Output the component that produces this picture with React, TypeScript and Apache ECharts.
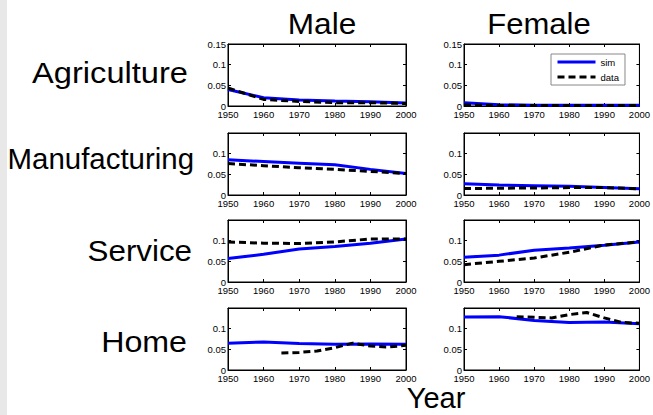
import React, { useEffect, useRef } from "react";
import * as echarts from "echarts";

const years = [1950, 1960, 1970, 1980, 1990, 2000];
const homeDataYears = [1965, 1970, 1975, 1980, 1985, 1990, 1995, 2000];

const sectors = ["Agriculture", "Manufacturing", "Service", "Home"];
const genders = ["Male", "Female"];
const yTicks = [0, 0.05, 0.1, 0.15];

// sim series (1950..2000 by 10)
const simMaleAgri = [0.04, 0.02, 0.0145, 0.012, 0.01, 0.007];
const simFemaleAgri = [0.008, 0.003, 0.002, 0.002, 0.002, 0.002];
const simMaleManu = [0.085, 0.081, 0.077, 0.073, 0.062, 0.052];
const simFemaleManu = [0.027, 0.024, 0.0225, 0.021, 0.018, 0.015];
const simMaleServ = [0.057, 0.067, 0.08, 0.086, 0.094, 0.104];
const simFemaleServ = [0.06, 0.065, 0.077, 0.082, 0.089, 0.097];
const simMaleHome = [0.065, 0.068, 0.064, 0.062, 0.063, 0.062];
const simFemaleHome = [0.128, 0.129, 0.12, 0.115, 0.116, 0.112];

// data series
const dataMaleAgri = [0.0435, 0.016, 0.011, 0.008, 0.008, 0.006];
const dataFemaleAgri = [0.003, 0.001, 0.001, 0.001, 0.001, 0.001];
const dataMaleManu = [0.076, 0.071, 0.066, 0.062, 0.057, 0.052];
const dataFemaleManu = [0.0156, 0.0164, 0.017, 0.018, 0.018, 0.015];
const dataMaleServ = [0.097, 0.094, 0.093, 0.097, 0.104, 0.104];
const dataFemaleServ = [0.042, 0.05, 0.058, 0.072, 0.0895, 0.097];
const dataMaleHome = [0.041, 0.0425, 0.046, 0.054, 0.065, 0.058, 0.0555, 0.0597];
const dataFemaleHome = [0.129, 0.1274, 0.126, 0.134, 0.139, 0.126, 0.115, 0.113];

const simSets = [
  [simMaleAgri, simFemaleAgri],
  [simMaleManu, simFemaleManu],
  [simMaleServ, simFemaleServ],
  [simMaleHome, simFemaleHome],
];
const dataSets = [
  [dataMaleAgri, dataFemaleAgri],
  [dataMaleManu, dataFemaleManu],
  [dataMaleServ, dataFemaleServ],
  [dataMaleHome, dataFemaleHome],
];

const FONT = "'Liberation Sans', Arial, Helvetica, sans-serif";

export default function App() {
  const ref = useRef<HTMLDivElement>(null);
  useEffect(() => {
    if (!ref.current) return;
    document.documentElement.style.overflow = "hidden";
    document.documentElement.style.background = "#fff";
    document.body.style.margin = "0";
    document.body.style.overflow = "hidden";
    const chart = echarts.init(ref.current, null, { renderer: "svg" });
    const colLeft = [228, 464];
    const colWidth = [178, 179];
    const rowTop = [44, 133, 220, 308];
    const rowHeight = 62;

    const grids: any[] = [];
    const xAxes: any[] = [];
    const yAxes: any[] = [];
    const series: any[] = [];
    let g = 0;
    for (let r = 0; r < 4; r++) {
      for (let c = 0; c < 2; c++) {
        grids.push({
          left: colLeft[c],
          top: rowTop[r],
          width: colWidth[c],
          height: rowHeight,
          show: true,
          borderColor: "#000",
          borderWidth: 1,
          backgroundColor: "#fff",
          containLabel: false,
        });
        const xBase = {
          type: "value",
          gridIndex: g,
          min: 1950,
          max: 2000,
          interval: 10,
          splitLine: { show: false },
          axisLine: { show: true, onZero: false, lineStyle: { color: "#000", width: 1 } },
          axisTick: { show: true, inside: true, length: 3, lineStyle: { color: "#000" } },
        };
        xAxes.push({
          ...xBase,
          position: "bottom",
          axisLabel: {
            show: true,
            fontSize: 9.5,
            color: "#000",
            margin: 3,
            fontFamily: FONT,
            showMaxLabel: true,
            showMinLabel: true,
            formatter: (v: number) => String(v),
          },
        });
        xAxes.push({ ...xBase, position: "top", axisLabel: { show: false } });
        const yBase = {
          type: "value",
          gridIndex: g,
          min: 0,
          max: 0.15,
          interval: 0.05,
          splitLine: { show: false },
          axisLine: { show: true, onZero: false, lineStyle: { color: "#000", width: 1 } },
          axisTick: { show: true, inside: true, length: 3, lineStyle: { color: "#000" } },
        };
        yAxes.push({
          ...yBase,
          position: "left",
          axisLabel: {
            show: true,
            fontSize: 9.5,
            color: "#000",
            margin: 2,
            fontFamily: FONT,
            showMaxLabel: r === 0,
            formatter: (v: number) => {
              const t = yTicks.find((k) => Math.abs(k - v) < 1e-9);
              return t === undefined ? "" : String(t);
            },
          },
        });
        yAxes.push({ ...yBase, position: "right", axisLabel: { show: false } });

        const sim = simSets[r][c];
        const dat = dataSets[r][c];
        const dYears = r === 3 ? homeDataYears : years;
        series.push({
          name: "sim",
          type: "line",
          xAxisIndex: 2 * g,
          yAxisIndex: 2 * g,
          symbol: "none",
          data: years.map((y, i) => [y, sim[i]]),
          lineStyle: { color: "#0000ff", width: 3 },
          itemStyle: { color: "#0000ff" },
          z: 3,
        });
        series.push({
          name: "data",
          type: "line",
          xAxisIndex: 2 * g,
          yAxisIndex: 2 * g,
          symbol: "none",
          data: dYears.map((y, i) => [y, dat[i]]),
          lineStyle: { color: "#000", width: 3, type: [7, 4] },
          itemStyle: { color: "#000" },
          z: 4,
        });
        g++;
      }
    }

    const bigText = (text: string, x: number, y: number, align: string, sx: number) => ({
      type: "text",
      x,
      y,
      scaleX: sx,
      style: {
        text,
        fontSize: 29,
        fontFamily: FONT,
        fill: "#000",
        align,
        verticalAlign: "middle",
      },
    });

    const rowLabelX = [188, 194, 192, 187];
    const rowLabelY = [73, 159, 251, 342];
    const rowLabelSX = [1.125, 1.015, 1.08, 1.11];

    chart.setOption({
      animation: false,
      backgroundColor: "#fff",
      grid: grids,
      xAxis: xAxes,
      yAxis: yAxes,
      series,
      legend: {
        data: ["sim", "data"],
        orient: "vertical",
        left: 551,
        top: 54,
        itemWidth: 38,
        itemHeight: 10,
        itemGap: 5,
        padding: [3, 6, 3, 5],
        backgroundColor: "#fff",
        borderColor: "#888",
        borderWidth: 1,
        borderRadius: 0,
        itemStyle: { opacity: 0, color: "transparent", borderWidth: 0 },
        lineStyle: { width: 3 },
        textStyle: { fontSize: 9.5, color: "#000", fontFamily: FONT },
        selectedMode: false,
        z: 10,
      },
      graphic: [
        { type: "rect", shape: { x: 0, y: 0, width: 7, height: 415 }, style: { fill: "#e8e8e8" } },
        bigText(genders[0], 322, 23.5, "center", 1.09),
        bigText(genders[1], 539, 23.5, "center", 1.07),
        ...sectors.map((s, i) => bigText(s, rowLabelX[i], rowLabelY[i], "right", rowLabelSX[i])),
        bigText("Year", 436, 398, "center", 1.0),
      ],
    });
    return () => chart.dispose();
  }, []);
  return (
    <div style={{ position: "fixed", left: 0, top: 0, width: 653, height: 415, overflow: "hidden", background: "#fff" }}>
      <div
        ref={ref}
        style={{ position: "absolute", left: 0, top: 0, width: 653, height: 415 }}
      />
    </div>
  );
}
